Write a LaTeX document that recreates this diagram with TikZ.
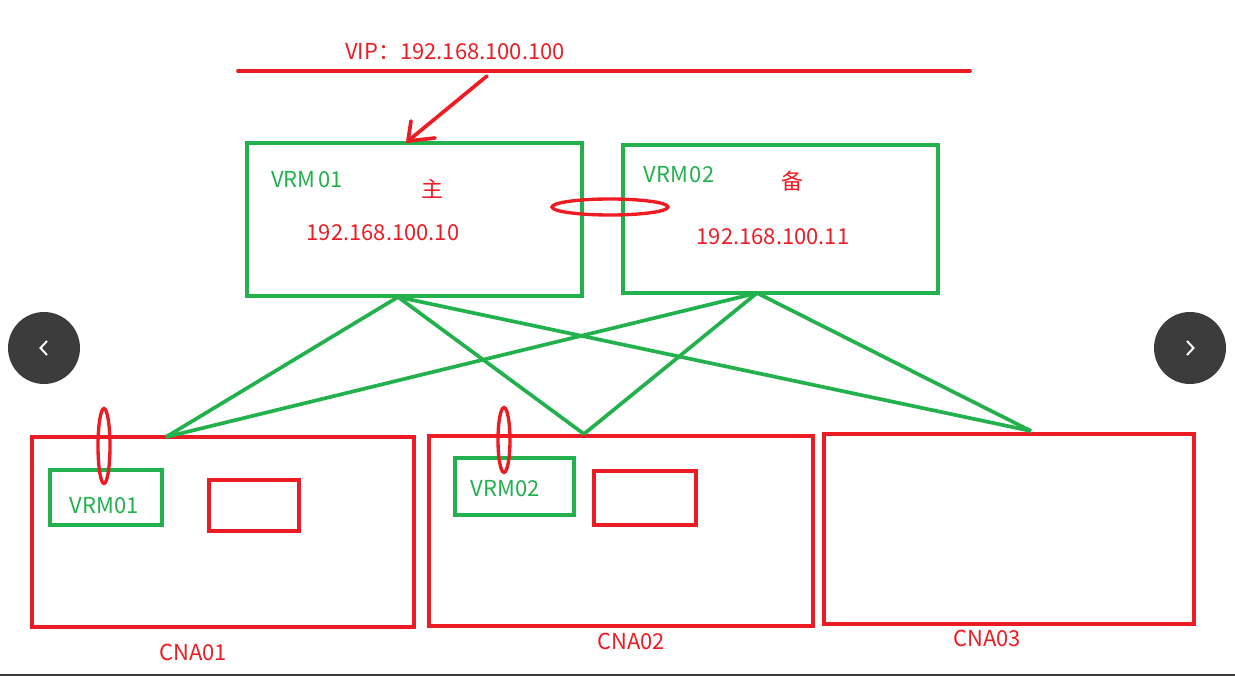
\documentclass[tikz,border=0pt]{standalone}
\usepackage{fontspec}
\newfontfamily\cjk{Noto Sans CJK SC}
\usetikzlibrary{shapes.geometric,fit}
\definecolor{pred}{RGB}{237,28,36}
\definecolor{pgreen}{RGB}{34,177,76}
\definecolor{navgray}{RGB}{60,60,60}
\begin{document}
\begin{tikzpicture}[x=0.02cm,y=-0.02cm,
  gbox/.style={draw=pgreen,line width=2.1pt,inner sep=0pt},
  rbox/.style={draw=pred,line width=2.1pt,inner sep=0pt},
  txt/.style={font=\cjk\fontsize{12.5}{15}\selectfont,inner sep=0pt},
  rtxt/.style={txt,text=pred},
  gtxt/.style={txt,text=pgreen},
  gline/.style={draw=pgreen,line width=2.1pt},
  rline/.style={draw=pred,line width=2.1pt,line cap=round},
  rring/.style={draw=pred,line width=1.9pt,ellipse,inner sep=0pt},
  nav/.style={circle,fill=navgray,minimum size=1.44cm,inner sep=0pt},
  chev/.style={draw=white,line width=1.1pt}
]
\useasboundingbox (0,0) rectangle (1235,676);
\fill[white] (0,0) rectangle (1235,676);

% VIP line and label
\coordinate (vipL) at (238,71);
\coordinate (vipR) at (970,71);
\draw[rline] (vipL) -- (vipR);
\node[rtxt] (vip) at (455,52) {VIP：192.168.100.100};

% VRM boxes
\node[gbox,fit={(247,143)(582,296)}] (vrm1) {};
\node[gbox,fit={(623,145)(938,293)}] (vrm2) {};
\node[gtxt] (vrm1lbl) at (307,180) {VRM\hspace{1.5pt}01};
\node[rtxt] (zhu) at (432,189) {主};
\node[rtxt] (ip1) at (383,233) {192.168.100.10};
\node[gtxt] (vrm2lbl) at (679,175) {VRM\hspace{1pt}02};
\node[rtxt] (bei) at (792,181) {备};
\node[rtxt] (ip2) at (773,237) {192.168.100.11};

% arrow from VIP line to VRM01
\coordinate (arrS) at (487,76);
\coordinate (arrT) at (408,141);
\draw[rline] (arrS) -- (arrT);
\draw[rline] (411,121) -- (arrT) -- (435,138);

% heartbeat ring
\node[rring,minimum width=2.32cm,minimum height=0.32cm] (ring) at (610,207) {};

% CNA boxes
\node[rbox,fit={(32,437)(414,627)}] (cna1) {};
\node[rbox,fit={(429,436)(813,626)}] (cna2) {};
\node[rbox,fit={(824,434)(1194,624)}] (cna3) {};
\node[rtxt] (cna1lbl) at (193,652) {CNA01};
\node[rtxt] (cna2lbl) at (631,641) {CNA02};
\node[rtxt] (cna3lbl) at (987,638) {CNA03};

% inner boxes
\node[gbox,fit={(50,470)(162,525)}] (vm1) {};
\node[gtxt] at (104,506) {VRM01};
\node[rbox,fit={(209,480)(299,531)}] (vm1b) {};
\node[gbox,fit={(455,458)(574,515)}] (vm2) {};
\node[gtxt] at (505,489) {VRM02};
\node[rbox,fit={(594,471)(696,525)}] (vm2b) {};

% vertical rings
\node[rring,minimum width=0.24cm,minimum height=1.5cm] (ring1) at (104,446) {};
\node[rring,minimum width=0.24cm,minimum height=1.3cm] (ring2) at (504,440) {};

% connection points
\coordinate (v1b) at (398,297);
\coordinate (v2b) at (757,293);
\coordinate (c1t) at (166,437);
\coordinate (c2t) at (584,434);
\coordinate (c3t) at (1031,431);
\draw[gline] (v1b) -- (c1t);
\draw[gline] (v1b) -- (c2t);
\draw[gline] (v1b) -- (c3t);
\draw[gline] (v2b) -- (c1t);
\draw[gline] (v2b) -- (c2t);
\draw[gline] (v2b) -- (c3t);

% navigation buttons
\node[nav] (navL) at (44,348) {};
\node[nav] (navR) at (1190,348) {};
\draw[chev] (47,341) -- (40.5,348) -- (47,355);
\draw[chev] (1187,341) -- (1193.5,348) -- (1187,355);

% bottom edge
\fill[navgray] (0,674) rectangle (1235,676);
\end{tikzpicture}
\end{document}
